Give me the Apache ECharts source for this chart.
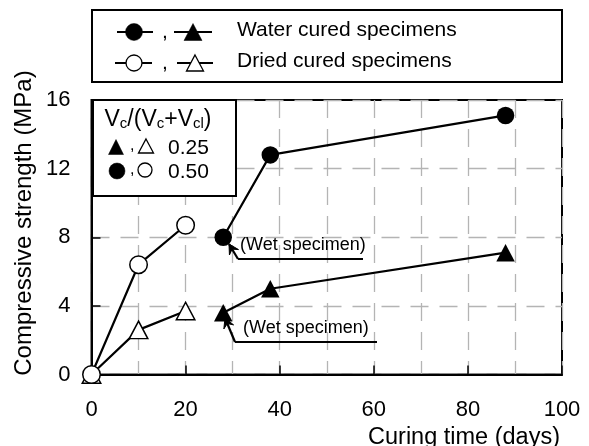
<!DOCTYPE html>
<html><head><meta charset="utf-8">
<script src="https://cdn.jsdelivr.net/npm/echarts@6/dist/echarts.min.js"></script>
<style>html,body{margin:0;padding:0;background:#fff}#c{width:589px;height:446px}</style>
</head><body><div id="c"></div>
<script>
// ---- data ----
const driedDays = [0, 10, 20];
const driedCircle = [0, 6.4, 8.7];     // Vc/(Vc+Vcl) = 0.50, dried cured
const driedTriangle = [0, 2.6, 3.7];   // Vc/(Vc+Vcl) = 0.25, dried cured
const waterDays = [28, 38, 88];
const waterCircle = [8.0, 12.8, 15.1]; // 0.50, water cured
const waterTriangle = [3.6, 5.0, 7.1]; // 0.25, water cured
const xTickLabels = [0, 20, 40, 60, 80, 100];
const yTickLabels = [0, 4, 8, 12, 16];
const legendTexts = ['Water cured specimens', 'Dried cured specimens'];
const ratioLabels = ['0.25', '0.50'];
const noteText = '(Wet specimen)';

const FONT = '"Liberation Sans", Arial, sans-serif';
const chart = echarts.init(document.getElementById('c'), null, {renderer: 'canvas'});

function mk(xs, ys, symbol, filled, z) {
  return {
    type: 'line', z: z, animation: false, silent: true,
    data: xs.map((x, i) => [x, ys[i]]),
    symbol: symbol, symbolSize: symbol === 'circle' ? 17.5 : [18.5, 17.5],
    showAllSymbol: true,
    lineStyle: {color: '#000', width: 2.2},
    itemStyle: {color: filled ? '#000' : '#fff', borderColor: '#000', borderWidth: filled ? 0 : 1.5},
    emphasis: {disabled: true}
  };
}

function tri(cx, cy, w, h, filled, z) {
  return {type: 'polygon', z: z || 101,
    shape: {points: [[cx, cy - h / 2], [cx + w / 2, cy + h / 2], [cx - w / 2, cy + h / 2]]},
    style: {fill: filled ? '#000' : '#fff', stroke: '#000', lineWidth: filled ? 0.5 : 1.3}};
}
function circ(cx, cy, r, filled, z) {
  return {type: 'circle', z: z || 101, shape: {cx: cx, cy: cy, r: r},
    style: {fill: filled ? '#000' : '#fff', stroke: '#000', lineWidth: filled ? 0.5 : 1.3}};
}
function seg(x1, y1, x2, y2, w) {
  return {type: 'line', z: 101, shape: {x1: x1, y1: y1, x2: x2, y2: y2}, style: {stroke: '#000', lineWidth: w || 2.2}};
}
function txt(x, y, t, size, align, extra) {
  return Object.assign({type: 'text', z: 102, x: x, y: y,
    style: {text: t, fontSize: size, fontFamily: FONT, fill: '#000', align: align || 'left', verticalAlign: 'middle'}}, extra || {});
}
function arrow(sx, sy, tx, ty) {
  const dx = tx - sx, dy = ty - sy, L = Math.hypot(dx, dy);
  const ux = dx / L, uy = dy / L, a = 0.5, hl = 11;
  const w1 = [tx - hl * (ux * Math.cos(a) - uy * Math.sin(a)), ty - hl * (uy * Math.cos(a) + ux * Math.sin(a))];
  const w2 = [tx - hl * (ux * Math.cos(a) + uy * Math.sin(a)), ty - hl * (uy * Math.cos(a) - ux * Math.sin(a))];
  const back = [tx - 6 * ux, ty - 6 * uy];
  return [seg(sx, sy, tx, ty, 2.2),
    {type: 'polygon', z: 101, shape: {points: [w1, [tx, ty], w2, back]}, style: {fill: '#000', stroke: '#000', lineWidth: 1}}];
}

const graphics = [
  // top legend box
  {type: 'rect', z: 100, shape: {x: 92, y: 10, width: 470, height: 72}, style: {fill: '#fff', stroke: '#000', lineWidth: 2}},
  seg(117, 32, 153, 32), circ(134, 32, 8.5, true),
  txt(162, 32, ',', 21),
  seg(174, 32, 212, 32), tri(193, 32, 18, 17, true),
  txt(237, 30, legendTexts[0], 21),
  seg(115, 63, 152, 63), circ(134, 63, 8, false),
  txt(162, 63, ',', 21),
  seg(177, 63, 213, 63), tri(195, 63, 17, 16, false),
  txt(237, 61, legendTexts[1], 21),
  // inner legend box
  {type: 'rect', z: 100, shape: {x: 93, y: 100, width: 143, height: 96}, style: {fill: '#fff', stroke: '#000', lineWidth: 2}},
  {type: 'text', z: 102, x: 158, y: 120, style: {
    text: '{m|V}{s|c}{m|/(V}{s|c}{m|+V}{s|cl}{m|)}', align: 'center', verticalAlign: 'middle',
    rich: {m: {fontSize: 23, fontFamily: FONT, fill: '#000', lineHeight: 23},
           s: {fontSize: 15, fontFamily: FONT, fill: '#000', lineHeight: 10, verticalAlign: 'bottom'}}}},
  tri(116, 147, 15, 15, true), txt(130, 146, ',', 16), tri(146, 146, 15, 14, false),
  txt(168, 148, ratioLabels[0], 21),
  circ(117, 171, 8, true), txt(130, 170, ',', 16), circ(145, 170, 7, false),
  txt(168, 172, ratioLabels[1], 21),
  // annotations
  seg(238, 259, 363, 259), ...arrow(238, 259, 229, 244),
  txt(240, 245, noteText, 18),
  seg(235, 342, 377, 342), ...arrow(235, 342, 225, 318),
  txt(243, 328, noteText, 18),
  // axis titles
  txt(24, 223, 'Compressive strength (MPa)', 24, 'center', {rotation: Math.PI / 2}),
  txt(560, 438, 'Curing time (days)', 23.5, 'right')
];

const dash = {color: '#b4b4b4', width: 1.3, type: [18, 11]};

chart.setOption({
  animation: false,
  backgroundColor: '#fff',
  grid: {left: 91.5, right: 27, top: 100, bottom: 71.5, show: true, borderColor: '#000', borderWidth: 2,
         containLabel: false, outerBoundsMode: 'none'},
  xAxis: {
    type: 'value', min: 0, max: 100, interval: 20,
    axisLine: {lineStyle: {color: '#000', width: 2}},
    axisTick: {show: true, inside: true, length: 9, lineStyle: {color: '#000', width: 1.5}},
    axisLabel: {margin: 24, fontSize: 22, fontFamily: FONT, color: '#000',
      formatter: v => xTickLabels.includes(v) ? String(v) : ''},
    splitLine: {show: true, lineStyle: dash},
    minorTick: {show: false, splitNumber: 2},
    minorSplitLine: {show: true, lineStyle: dash}
  },
  yAxis: {
    type: 'value', min: 0, max: 16, interval: 4,
    axisLine: {lineStyle: {color: '#000', width: 2}},
    axisTick: {show: true, inside: true, length: 9, lineStyle: {color: '#000', width: 1.5}},
    axisLabel: {margin: 21, fontSize: 22, fontFamily: FONT, color: '#000',
      formatter: v => yTickLabels.includes(v) ? String(v) : ''},
    splitLine: {show: true, lineStyle: dash}
  },
  series: [
    mk(driedDays, driedTriangle, 'triangle', false, 3),
    mk(driedDays, driedCircle, 'circle', false, 4),
    mk(waterDays, waterTriangle, 'triangle', true, 5),
    mk(waterDays, waterCircle, 'circle', true, 6)
  ],
  graphic: graphics
});
</script></body></html>
